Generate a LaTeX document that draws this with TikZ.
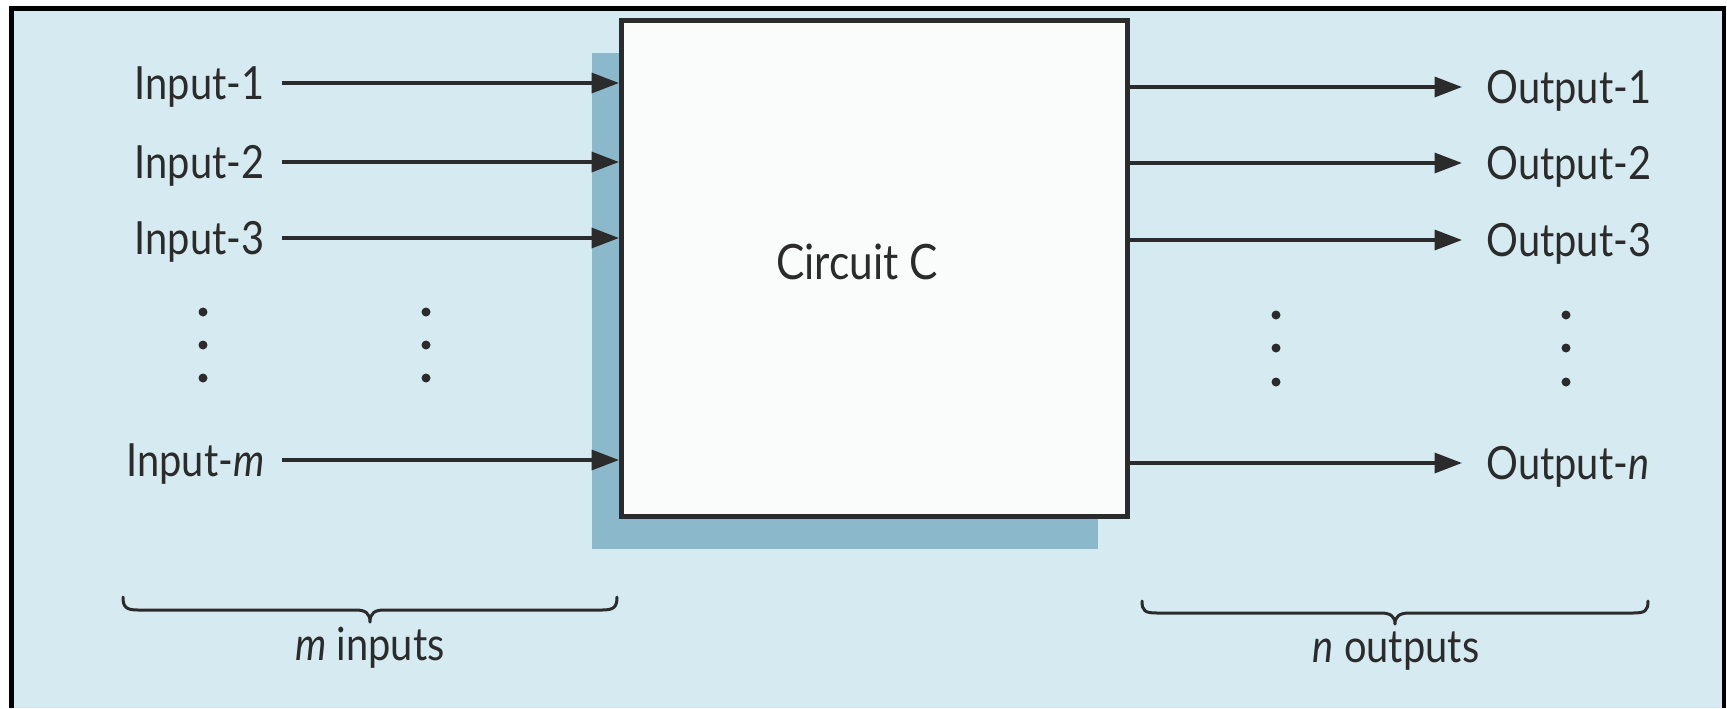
\documentclass[tikz,border=0pt]{standalone}
\usepackage{fontspec}
\setmainfont{Lato}[FakeStretch=0.87]
\usetikzlibrary{arrows.meta}
\definecolor{bg}{HTML}{D5EBF1}
\definecolor{shadowblue}{HTML}{8CB8CC}
\definecolor{ink}{HTML}{2B2B2B}
\definecolor{boxfill}{HTML}{FAFCFC}
\begin{document}
\begin{tikzpicture}[x=0.4pt,y=-0.4pt,
  lab/.style={inner sep=0pt, text height=13.2pt, text depth=0pt,
    font=\fontsize{18.3pt}{20pt}\selectfont, text=ink},
  arr/.style={draw=ink, line width=1.4pt, -{Triangle[length=11pt,width=8pt]}},
  brc/.style={draw=ink, line width=1.2pt, line cap=round, line join=round},
  frame/.style={draw=black, line width=1.8pt},
  circuit/.style={draw=ink, line width=2pt, fill=boxfill, inner sep=0pt,
    minimum width=202.4pt, minimum height=198.4pt}]
\useasboundingbox (0,0) rectangle (1727,708);
% page and frame
\fill[white] (0,0) rectangle (1727,708);
\fill[bg] (11.7,8.5) rectangle (1724,708);
\draw[frame] (11.7,708) -- (11.7,8.5) -- (1724,8.5) -- (1724,708);
% shadow and box
\fill[shadowblue] (592,53) rectangle (1098,549);
\node[circuit] (box) at (874.5,268) {};
\node[lab, text height=14pt, font=\fontsize{19.5pt}{22pt}\selectfont] (circ) at (857,262) {Circuit C};
% inputs
\node[lab, anchor=east] (in1) at (265,83) {Input-1};
\node[lab, anchor=east] (in2) at (265,162) {Input-2};
\node[lab, anchor=east] (in3) at (265,238) {Input-3};
\node[lab, anchor=east] (inm) at (265,460) {Input-\textit{m}};
\foreach \n in {in1,in2,in3,inm}
  \draw[arr, shorten <=6.8pt] (\n) -- (\n -| box.west);
% outputs
\node[lab, anchor=west] (o1) at (1486,87) {Output-1};
\node[lab, anchor=west] (o2) at (1486,163) {Output-2};
\node[lab, anchor=west] (o3) at (1486,240) {Output-3};
\node[lab, anchor=west] (on) at (1486,463) {Output-\textit{n}};
\foreach \n in {o1,o2,o3,on}
  \draw[arr, shorten >=9.6pt] (\n -| box.east) -- (\n);
% dots
\foreach \x in {203,426}
  \foreach \y in {312,345,378}
    \fill[ink] (\x,\y) circle[radius=1.8pt];
\foreach \x in {1276,1566}
  \foreach \y in {315,348,382}
    \fill[ink] (\x,\y) circle[radius=1.8pt];
% braces
\draw[brc] (123,597) .. controls (123,607) and (126,610) .. (138,610)
  -- (356,610) .. controls (365,610) and (370,613) .. (370,622)
  .. controls (370,613) and (375,610) .. (384,610)
  -- (602,610) .. controls (614,610) and (617,607) .. (617,597);
\draw[brc] (1142,601) .. controls (1142,611) and (1145,613) .. (1157,613)
  -- (1381,613) .. controls (1390,613) and (1395,616) .. (1395,624)
  .. controls (1395,616) and (1400,613) .. (1409,613)
  -- (1633,613) .. controls (1645,613) and (1648,611) .. (1648,601);
\node[lab, anchor=base] (mi) at (370,660) {\textit{m} inputs};
\node[lab, anchor=base] (no) at (1396,662) {\textit{n} outputs};
\end{tikzpicture}
\end{document}
